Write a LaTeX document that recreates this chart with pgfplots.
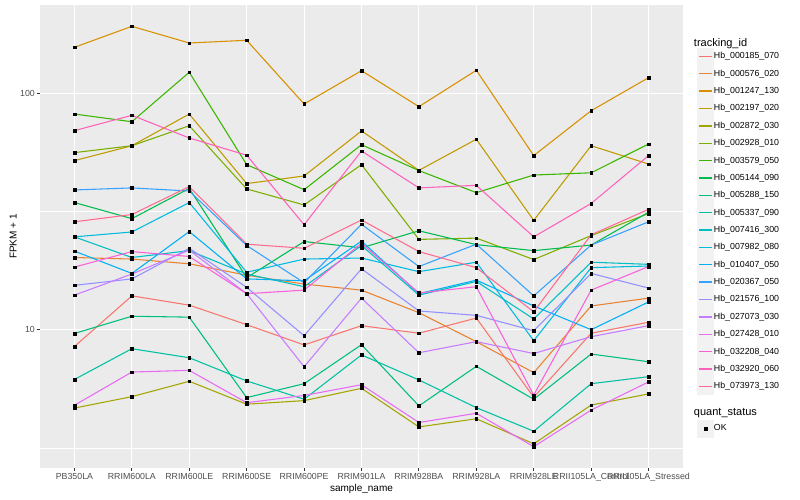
\documentclass[border=0pt]{standalone}
\usepackage{fontspec}
\setmainfont{Liberation Sans}
\usepackage{pgfplots}
\usepackage{pgfplotstable}
\pgfplotsset{compat=1.18}

\definecolor{panel}{HTML}{EBEBEB}
\definecolor{keybg}{HTML}{F2F2F2}
\definecolor{gray30}{HTML}{4D4D4D}
\definecolor{gray20}{HTML}{333333}
\definecolor{s1}{HTML}{F8766D}
\definecolor{s2}{HTML}{EA8331}
\definecolor{s3}{HTML}{D89000}
\definecolor{s4}{HTML}{C09B00}
\definecolor{s5}{HTML}{A3A500}
\definecolor{s6}{HTML}{7CAE00}
\definecolor{s7}{HTML}{39B600}
\definecolor{s8}{HTML}{00BB4E}
\definecolor{s9}{HTML}{00BF7D}
\definecolor{s10}{HTML}{00C1A3}
\definecolor{s11}{HTML}{00BFC4}
\definecolor{s12}{HTML}{00BAE0}
\definecolor{s13}{HTML}{00B0F6}
\definecolor{s14}{HTML}{35A2FF}
\definecolor{s15}{HTML}{9590FF}
\definecolor{s16}{HTML}{C77CFF}
\definecolor{s17}{HTML}{E76BF3}
\definecolor{s18}{HTML}{FA62DB}
\definecolor{s19}{HTML}{FF62BC}
\definecolor{s20}{HTML}{FF6C91}

% FPKM + 1 per sample (rows) and tracking id (columns s1..s20)
\pgfplotstableread{
x  s1    s2    s3    s4   s5   s6   s7    s8   s9   s10  s11  s12  s13  s14  s15  s16  s17  s18  s19  s20
1  8.49  20.2  156.5 51.9 4.66 56.1 81.7  34.5 9.64 6.16 24.7 24.7 21.5 39.0 15.4 14.0 4.79 18.4 69.5 28.6
2  13.9  19.9  192.0 60.0 5.21 60.0 75.8  29.5 11.4 8.31 20.2 25.9 17.3 39.8 16.4 17.2 6.62 21.4 80.7 30.7
3  12.7  19.0  163.2 81.7 6.05 72.9 122.7 39.6 11.3 7.61 21.6 34.5 26.0 38.6 22.1 21.7 6.73 20.4 64.7 40.3
4  10.5  17.0  167.6 41.5 4.84 39.4 49.9  16.6 5.16 6.07 17.2 17.5 16.4 22.7 15.1 14.2 4.91 14.2 54.7 23.0
5  8.62  15.6  90.1  44.7 5.01 33.7 39.1  23.6 5.91 5.08 15.2 19.9 16.1 15.8 9.43 6.97 5.27 14.7 27.8 22.1
6  10.4  14.7  124.6 69.3 5.65 49.9 60.6  22.2 8.64 7.82 22.7 20.1 23.7 27.9 18.1 13.6 5.85 23.2 57.0 29.1
7  9.66  11.8  87.8  47.2 3.88 24.1 47.1  26.2 4.76 6.13 14.0 17.6 14.2 18.5 12.0 7.99 4.05 14.3 39.8 21.4
8  11.2  8.9   125.1 63.9 4.20 24.4 38.0  22.9 7.00 4.68 16.0 19.3 16.2 23.0 11.5 8.90 4.43 15.2 40.8 18.3
9  5.18  6.58  54.5  29.0 3.29 19.8 45.1  21.6 5.08 3.72 11.1 8.98 12.6 13.9 9.90 7.93 3.20 5.29 24.7 11.9
10 9.66  12.6  84.4  60.0 4.80 25.0 46.1  22.8 7.89 5.91 19.3 18.3 10.0 22.8 17.3 9.34 4.57 14.7 34.2 25.2
11 10.75 13.6  116.4 50.2 5.35 31.0 61.0  31.4 7.32 6.33 18.9 18.6 13.1 28.6 15.0 10.4 6.01 18.5 54.5 32.3
}\fpkm

\begin{document}
\begin{tikzpicture}
\path[use as bounding box] (0,0) rectangle (800pt,500pt);
\begin{axis}[
    at={(40pt,32pt)}, anchor=south west,
    scale only axis, width=643pt, height=463pt,
    xmin=0.4, xmax=11.6,
    ymode=log, ymin=2.60, ymax=236.3,
    axis background/.style={fill=panel},
    axis line style={draw=none},
    xtick={1,...,11},
    xticklabels={PB350LA,RRIM600LA,RRIM600LE,RRIM600SE,RRIM600PE,RRIM901LA,RRIM928BA,RRIM928LA,RRIM928LE,RRII105LA\_Control,RRII105LA\_Stressed},
    ytick={10,100}, yticklabels={10,100},
    minor ytick={3.1623,31.623},
    xtick pos=bottom, ytick pos=left,
    tick align=outside, major tick length=2.75pt, minor tick length=0pt,
    tick style={gray20, line width=1.07pt},
    grid=both,
    major grid style={white, line width=1.07pt},
    minor grid style={white, line width=0.53pt},
    /pgf/number format/assume math mode=true,
    ticklabel style={font=\fontsize{8.8}{10}\selectfont, text=gray30, inner sep=0pt},
    xticklabel style={yshift=-2.2pt},
    yticklabel style={xshift=-2.2pt},
    xlabel={sample\_name}, ylabel={FPKM + 1},
    label style={font=\fontsize{11}{13}\selectfont},
    every axis x label/.style={at={(rel axis cs:0.5,0)}, anchor=center, yshift=-21pt},
    every axis y label/.style={at={(rel axis cs:0,0.5)}, xshift=-26.7pt, rotate=90, anchor=center},
    legend image code/.code={
        \fill[keybg] (0pt,-8.15pt) rectangle (16pt,8.15pt);
        \draw[#1, mark=none, line width=1.4pt] (1.5pt,0pt) -- (14.5pt,0pt);
    },
    legend style={at={(1,1)}, anchor=north west, xshift=13.7pt, yshift=-33pt,
        draw=none, fill=none, inner sep=0pt, row sep=0pt,
        nodes={inner sep=0pt},
        font=\fontsize{8.8}{10}\selectfont,
        /tikz/every even column/.append style={column sep=4pt}},
    legend cell align=left,
]
\addlegendimage{empty legend}
\pgfplotsinvokeforeach{1,...,20}{
    \addplot[color=s#1, line width=1.07pt, mark=none] table[x=x, y=s#1] {\fpkm};
}
\pgfplotsinvokeforeach{1,...,20}{
    \addplot[forget plot, only marks, mark=square*, mark size=1.3pt, black] table[x=x, y=s#1] {\fpkm};
}
\addlegendimage{empty legend}
\addlegendimage{legend image code/.code={
    \path (0pt,11.8pt);
    \fill[keybg] (0pt,-8.15pt) rectangle (16pt,8.15pt);
    \fill[black] (6.7pt,-1.4pt) rectangle (9.3pt,1.4pt);}}
\legend{\hspace*{-20pt}\fontsize{11}{13}\selectfont tracking\_id,
    Hb\_000185\_070, Hb\_000576\_020, Hb\_001247\_130, Hb\_002197\_020, Hb\_002872\_030,
    Hb\_002928\_010, Hb\_003579\_050, Hb\_005144\_090, Hb\_005288\_150, Hb\_005337\_090,
    Hb\_007416\_300, Hb\_007982\_080, Hb\_010407\_050, Hb\_020367\_050, Hb\_021576\_100,
    Hb\_027073\_030, Hb\_027428\_010, Hb\_032208\_040, Hb\_032920\_060, Hb\_073973\_130,
    \hspace*{-20pt}\rule[-10pt]{0pt}{30pt}\fontsize{11}{13}\selectfont quant\_status,
    OK}
\end{axis}
\end{tikzpicture}
\end{document}
